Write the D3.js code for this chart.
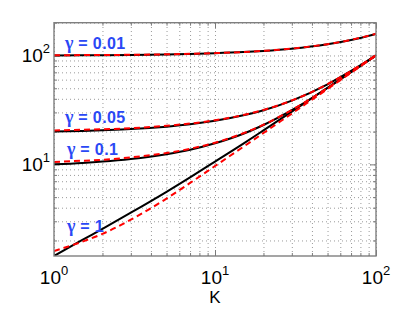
<!DOCTYPE html>
<html>
<head>
<meta charset="utf-8">
<script src="https://cdn.jsdelivr.net/npm/d3@7"></script>
<style>
  body { margin: 0; background: #fff; }
  text { font-family: "Liberation Sans", Arial, sans-serif; }
</style>
</head>
<body>
<div id="chart"></div>
<script>
// K values shared by every curve
var kValues = [1, 1.5, 2, 3, 5, 7, 10, 15, 20, 30, 50, 70, 100];

// black solid curves
var solid001 = [100.0, 100.3, 100.6, 101.1, 102.1, 103.2, 104.8, 107.4, 110.1, 115.5, 127.0, 139.0, 158.0];
var solid005 = [20.0, 20.3, 20.6, 21.1, 22.2, 23.3, 25.1, 28.2, 31.4, 38.5, 54.4, 72.1, 100.6];
var solid01  = [10.0, 10.3, 10.6, 11.2, 12.4, 13.6, 15.6, 19.1, 23.0, 31.5, 50.3, 70.1, 100.0];
var solid1   = [1.44, 2.02, 2.56, 3.6, 5.6, 7.6, 10.6, 15.5, 20.5, 30.5, 50.5, 70.5, 100.0];

// red dashed curves
var dashed001 = [100.5, 100.8, 101.0, 101.5, 102.5, 103.5, 105.1, 107.6, 110.3, 115.7, 127.1, 139.2, 158.2];
var dashed005 = [20.5, 20.8, 21.0, 21.5, 22.6, 23.7, 25.4, 28.4, 31.6, 38.6, 54.5, 72.2, 100.7];
var dashed01  = [10.5, 10.8, 11.0, 11.6, 12.7, 13.9, 15.8, 19.3, 23.1, 31.6, 50.3, 70.1, 100.0];
var dashed1   = [1.6, 1.95, 2.3, 3.1, 4.85, 6.75, 9.65, 14.5, 19.4, 29.3, 49.2, 69.5, 100.0];

var gammaValues = ["0.01", "0.05", "0.1", "1"];
var xTickValues = [1, 10, 100];
var xTickExps = ["0", "1", "2"];
var yTickValues = [10, 100];
var yTickExps = ["1", "2"];

var svgWidth = 415;
var svgHeight = 309;
var margin = { top: 22.7, right: 39, bottom: 53, left: 54 };
var width = svgWidth - margin.left - margin.right;
var height = svgHeight - margin.top - margin.bottom;

var svg = d3.select("#chart")
  .append("svg")
  .attr("width", svgWidth)
  .attr("height", svgHeight);

var chartGroup = svg.append("g")
  .attr("transform", `translate(${margin.left}, ${margin.top})`);

var xScale = d3.scaleLog().domain([1, 100]).range([0, width]);
var yScale = d3.scaleLog().domain([1.44, 200]).range([height, 0]);

// minor + major tick values for grid / ticks
var xAll = [];
[1, 10].forEach(function(d) { for (var i = 1; i < 10; i++) xAll.push(d * i); });
xAll.push(100);
var yAll = [];
[1, 10, 100].forEach(function(d) { for (var i = 1; i < 10; i++) { var v = d * i; if (v >= 1.44 && v <= 200) yAll.push(v); } });

// dotted grid
var gridX = d3.axisBottom(xScale).tickValues(xAll).tickSize(-height).tickFormat("");
var gridY = d3.axisLeft(yScale).tickValues(yAll).tickSize(-width).tickFormat("");
chartGroup.append("g").attr("class", "grid")
  .attr("transform", `translate(0, ${height})`).call(gridX);
chartGroup.append("g").attr("class", "grid").call(gridY);
chartGroup.selectAll(".grid .domain").remove();
chartGroup.selectAll(".grid line")
  .attr("stroke", "#9a9a9a")
  .attr("stroke-width", 1)
  .attr("stroke-dasharray", "1,3");

// inward ticks on all four sides
function tickSize(v) { return xTickValues.concat(yTickValues).indexOf(v) >= 0 ? 6 : 3; }
function addTicks(axisFn, scale, vals, tr) {
  var g = chartGroup.append("g").attr("transform", tr)
    .call(axisFn(scale).tickValues(vals).tickSize(0).tickFormat(""));
  g.select(".domain").remove();
  g.selectAll(".tick line").each(function(d) {
    var s = tickSize(d);
    var el = d3.select(this).attr("stroke", "#7a7a7a").attr("stroke-width", 1);
    if (axisFn === d3.axisBottom) el.attr("y2", -s);
    if (axisFn === d3.axisTop) el.attr("y2", s);
    if (axisFn === d3.axisLeft) el.attr("x2", s);
    if (axisFn === d3.axisRight) el.attr("x2", -s);
  });
}
addTicks(d3.axisBottom, xScale, xAll, `translate(0, ${height})`);
addTicks(d3.axisTop, xScale, xAll, "translate(0, 0)");
addTicks(d3.axisLeft, yScale, yAll, "translate(0, 0)");
addTicks(d3.axisRight, yScale, yAll, `translate(${width}, 0)`);

// curves
var line = d3.line()
  .x(function(d) { return xScale(d[0]); })
  .y(function(d) { return yScale(d[1]); })
  .curve(d3.curveMonotoneX);

var solidSeries = [solid001, solid005, solid01, solid1];
var dashedSeries = [dashed001, dashed005, dashed01, dashed1];

chartGroup.append("clipPath").attr("id", "plotclip")
  .append("rect").attr("width", width).attr("height", height);

solidSeries.forEach(function(s) {
  chartGroup.append("path")
    .datum(kValues.map(function(k, i) { return [k, s[i]]; }))
    .attr("clip-path", "url(#plotclip)")
    .attr("fill", "none")
    .attr("stroke", "#000")
    .attr("stroke-width", 2)
    .attr("d", line);
});
dashedSeries.forEach(function(s) {
  chartGroup.append("path")
    .datum(kValues.map(function(k, i) { return [k, s[i]]; }))
    .attr("clip-path", "url(#plotclip)")
    .attr("fill", "none")
    .attr("stroke", "#ff0000")
    .attr("stroke-width", 2)
    .attr("stroke-dasharray", "6,4")
    .attr("d", line);
});

// box
chartGroup.append("rect")
  .attr("width", width).attr("height", height)
  .attr("fill", "none")
  .attr("stroke", "#7f7f7f")
  .attr("stroke-width", 1.4);

// gamma labels
var labelValues = [114, 23.8, 12.2, 2.41];
gammaValues.forEach(function(g, i) {
  var t = chartGroup.append("text")
    .attr("x", xScale(1) + (i < 2 ? 11 : 13))
    .attr("y", yScale(labelValues[i]))
    .attr("fill", "#2a48f5")
    .attr("font-size", 16);
  t.append("tspan")
    .attr("font-family", "'Liberation Serif', 'Times New Roman', serif")
    .attr("font-weight", "bold")
    .attr("font-size", 18)
    .text("\u03b3");
  t.append("tspan")
    .attr("font-weight", "bold")
    .attr("letter-spacing", 0.4)
    .text(" = " + g);
});

// x tick labels 10^n
xTickValues.forEach(function(v, i) {
  var t = chartGroup.append("text")
    .attr("x", xScale(v))
    .attr("y", height + 28)
    .attr("text-anchor", "middle")
    .attr("font-size", 19);
  t.append("tspan").text("10");
  t.append("tspan").attr("dy", -9).attr("font-size", 13).text(xTickExps[i]);
});

// y tick labels
yTickValues.forEach(function(v, i) {
  var t = chartGroup.append("text")
    .attr("x", -4)
    .attr("y", yScale(v) + 7)
    .attr("text-anchor", "end")
    .attr("font-size", 19);
  t.append("tspan").text("10");
  t.append("tspan").attr("dy", -9).attr("font-size", 13).text(yTickExps[i]);
});

// x axis title
chartGroup.append("text")
  .attr("x", xScale(10))
  .attr("y", height + 47)
  .attr("text-anchor", "middle")
  .attr("font-size", 17)
  .text("K");
</script>
</body>
</html>
